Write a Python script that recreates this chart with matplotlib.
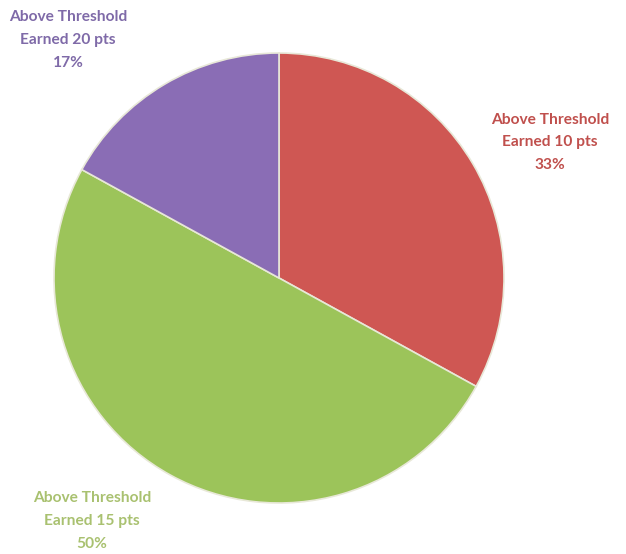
import matplotlib.pyplot as plt

# slice data, clockwise from 12 o'clock
labels = ['Above Threshold\nEarned 10 pts', 'Above Threshold\nEarned 15 pts',
          'Above Threshold\nEarned 20 pts']
shares = [33, 50, 17]
pcts = ['33%', '50%', '17%']
colors = ['#cf5753', '#9cc45a', '#8a6db5']
text_colors = ['#c0504d', '#a9c170', '#7f6aa8']

plt.rcParams['font.family'] = ['Lato', 'DejaVu Sans']

fig = plt.figure(figsize=(6.26, 5.54), dpi=100)
ax = fig.add_axes([54/626, 51/554, 450/626, 450/554])

wedges, _ = ax.pie(shares, colors=colors, startangle=90, counterclock=False,
                   radius=1.0,
                   wedgeprops={'edgecolor': '#e8e8d8', 'linewidth': 1.2})
for w in wedges:
    w.set_clip_on(False)

# label positions in data units (pie radius = 1)
label_pos = [(1.204, 0.604), (-0.831, -1.08), (-0.938, 1.058)]
for (x, y), lab, pct, tc in zip(label_pos, labels, pcts, text_colors):
    ax.text(x, y, lab + '\n' + pct, ha='center', va='center', color=tc,
            fontsize=11.2, fontweight='bold', linespacing=1.78, clip_on=False)

ax.set_xlim(-1, 1)
ax.set_ylim(-1, 1)
ax.set_aspect('auto')
ax.axis('off')

fig.savefig('out.png', dpi=100)
